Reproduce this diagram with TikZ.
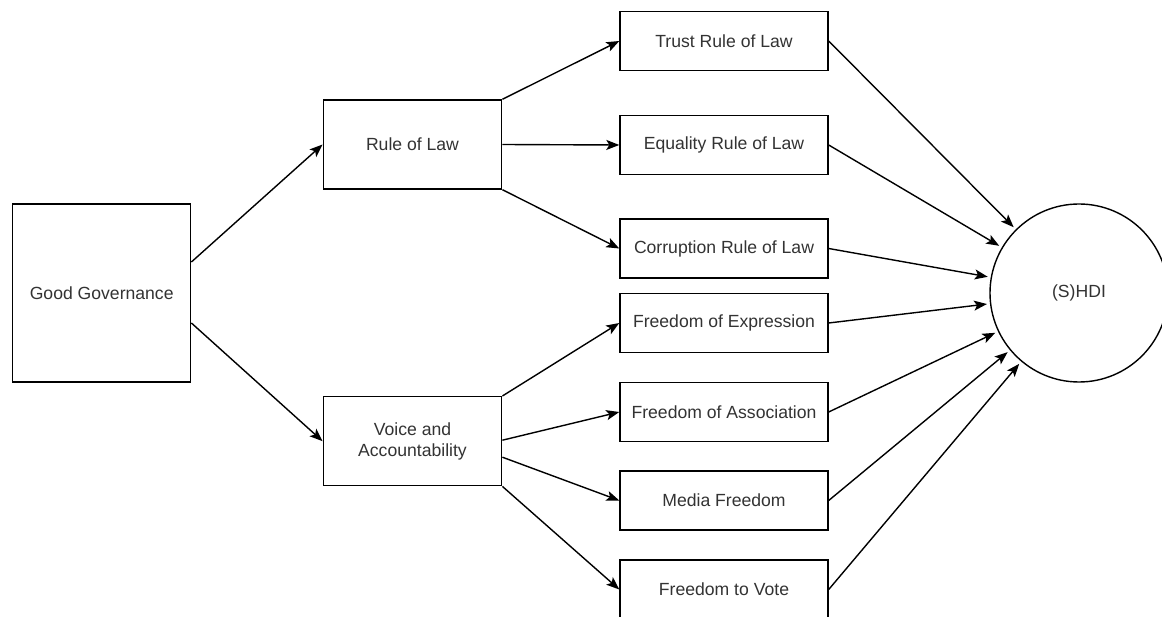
\documentclass[tikz,border=0pt]{standalone}
\usepackage{fontspec}
\setmainfont{Liberation Sans}
\usetikzlibrary{arrows.meta,calc}
\definecolor{txt}{HTML}{333333}
\tikzset{
  box/.style={draw=black, line width=1.4pt, fill=white, minimum width=#1, inner sep=0pt, align=center, text=txt,
    font=\fontsize{17.6}{21}\selectfont},
  bigbox/.style={box, minimum width=178pt, minimum height=178pt},
  midbox/.style={box, minimum width=178.4pt, minimum height=89pt},
  smallbox/.style={box, minimum width=208pt, minimum height=59pt},
  outcome/.style={circle, draw=black, line width=1.4pt, minimum size=178pt, inner sep=0pt, text=txt,
    font=\fontsize{17.6}{21}\selectfont},
  link/.style={line width=1.4pt, draw=black, -{Stealth[length=13pt,width=10pt,inset=3pt]}},
}
\begin{document}
\begin{tikzpicture}[x=1pt,y=-1pt]
\clip (0,0) rectangle (1162,617);
\fill[white] (0,0) rectangle (1162,617);
\node[bigbox] (gg) at (101.7,293) {Good Governance};
\node[midbox] (rol) at (412.5,144.5) {Rule of Law};
\node[midbox] (va) at (412.5,441.2) {Voice and\\Accountability};
\node[smallbox] (trust) at (724,41) {Trust Rule of Law};
\node[smallbox] (equal) at (724,145) {Equality Rule of Law};
\node[smallbox] (corr) at (724,248.5) {Corruption Rule of Law};
\node[smallbox] (expr) at (724,323) {Freedom of Expression};
\node[smallbox] (assoc) at (724,412) {Freedom of Association};
\node[smallbox] (media) at (724,500.5) {Media Freedom};
\node[smallbox] (vote) at (724,589.5) {Freedom to Vote};
\node[outcome] (hdi) at (1079,293) {(S)HDI};

\draw[link] ($(gg.east)+(0,-31)$) -- (rol.west);
\draw[link] ($(gg.east)+(0,30)$) -- (va.west);
\draw[link] (rol.north east) -- (trust.west);
\draw[link] (rol.east) -- (equal.west);
\draw[link] (rol.south east) -- (corr.west);
\draw[link] (va.north east) -- (expr.west);
\draw[link] ($(va.east)+(0,-1)$) -- (assoc.west);
\draw[link] ($(va.east)+(0,16)$) -- (media.west);
\draw[link] (va.south east) -- (vote.west);
\foreach \n in {trust,equal,corr,expr,assoc,media,vote}
  \draw[link, shorten >=3pt] (\n.east) -- (hdi);
\end{tikzpicture}
\end{document}
